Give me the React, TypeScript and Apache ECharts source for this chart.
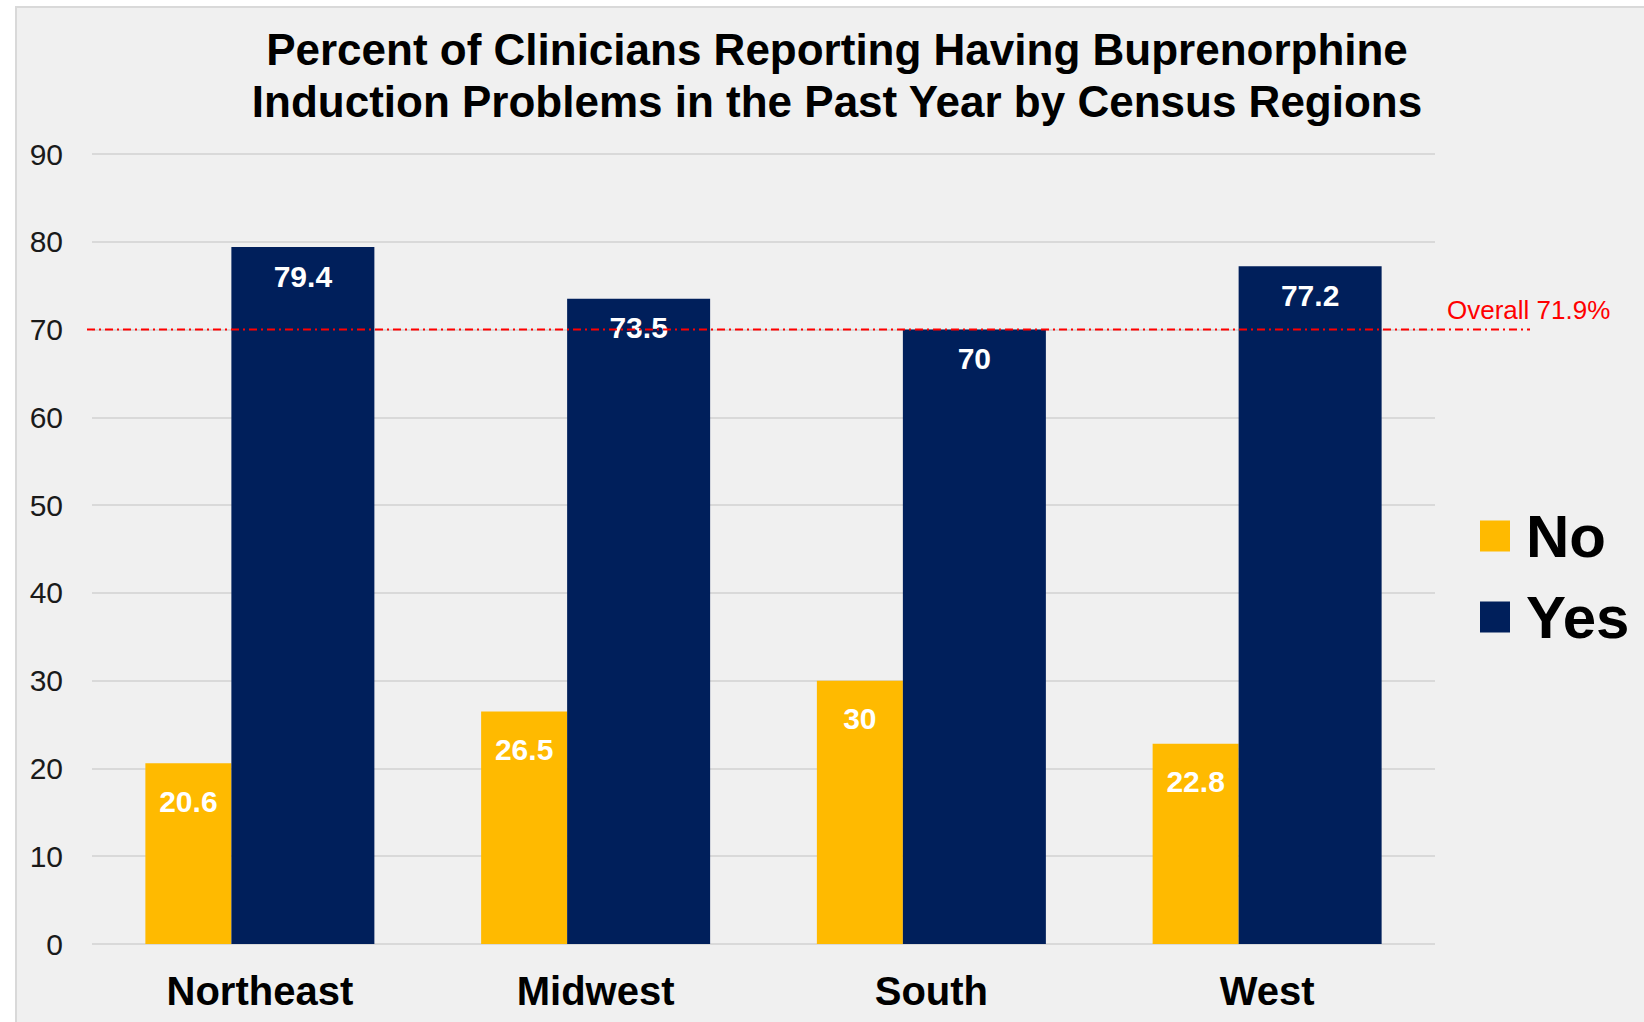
import React, { useEffect, useRef } from "react";
import * as echarts from "echarts";

const categories = ["Northeast", "Midwest", "South", "West"];
const noValues = [20.6, 26.5, 30, 22.8];
const yesValues = [79.4, 73.5, 70, 77.2];
const seriesNames = ["No", "Yes"];
const yMin = 0;
const yMax = 90;
const yInterval = 10;
const overallLineValue = 70;
const overallLabel = "Overall 71.9%";
const titleText =
  "Percent of Clinicians Reporting Having Buprenorphine\nInduction Problems in the Past Year by Census Regions";

const FONT = "'Liberation Sans', Arial, Helvetica, sans-serif";
const NO_COLOR = "#FFBA00";
const YES_COLOR = "#001F5B";

export default function App() {
  const ref = useRef<HTMLDivElement>(null);

  useEffect(() => {
    if (!ref.current) return;
    const chart = echarts.init(ref.current, undefined, { renderer: "svg" });

    const panel = {
      id: "panel",
      type: "rect",
      z: -10,
      shape: { x: 16, y: 7, width: 1640, height: 1030 },
      style: { fill: "#f0f0f0", stroke: "#d9d9d9", lineWidth: 2 },
    };

    const title = {
      id: "title",
      type: "text",
      z: 50,
      x: 837,
      y: 23,
      style: {
        text: titleText,
        fill: "#000000",
        fontFamily: FONT,
        fontSize: 44,
        fontWeight: "bold",
        lineHeight: 52,
        align: "center",
        verticalAlign: "top",
      },
    };

    const option: any = {
      animation: false,
      backgroundColor: "#ffffff",
      textStyle: { fontFamily: FONT },
      legend: {
        data: seriesNames,
        orient: "vertical",
        left: 1480,
        top: 506,
        padding: 0,
        icon: "rect",
        itemWidth: 30,
        itemHeight: 31,
        itemGap: 21,
        textStyle: {
          fontFamily: FONT,
          fontSize: 60,
          fontWeight: "bold",
          color: "#000000",
          lineHeight: 60,
          padding: [0, 0, 0, 11],
        },
      },
      grid: { left: 92, right: 209, top: 154, bottom: 78, containLabel: false },
      xAxis: {
        type: "category",
        data: categories,
        axisLine: { show: false },
        axisTick: { show: false },
        axisLabel: {
          margin: 26,
          fontFamily: FONT,
          fontSize: 40,
          fontWeight: "bold",
          color: "#000000",
          lineHeight: 42,
        },
      },
      yAxis: {
        type: "value",
        min: yMin,
        max: yMax,
        interval: yInterval,
        axisLine: { show: false },
        axisTick: { show: false },
        axisLabel: {
          margin: 29,
          fontFamily: FONT,
          fontSize: 30,
          color: "#1a1a1a",
        },
        splitLine: { lineStyle: { color: "#d9d9d9", width: 2 } },
      },
      series: [
        {
          name: seriesNames[0],
          type: "bar",
          data: noValues,
          barWidth: 86,
          barGap: "0%",
          itemStyle: { color: NO_COLOR },
          label: {
            show: true,
            position: "insideTop",
            distance: 23,
            fontFamily: FONT,
            fontSize: 30,
            lineHeight: 30,
            fontWeight: "bold",
            color: "#ffffff",
          },
        },
        {
          name: seriesNames[1],
          type: "bar",
          data: yesValues,
          barWidth: 143,
          barGap: "0%",
          itemStyle: { color: YES_COLOR },
          label: {
            show: true,
            position: "insideTop",
            distance: 14,
            fontFamily: FONT,
            fontSize: 30,
            lineHeight: 30,
            fontWeight: "bold",
            color: "#ffffff",
          },
        },
      ],
      graphic: [panel, title],
    };

    chart.setOption(option);

    const lineY = chart.convertToPixel({ yAxisIndex: 0 }, overallLineValue) as number;
    chart.setOption({
      graphic: [
        panel,
        title,
        {
          id: "overallLine",
          type: "line",
          z: 100,
          shape: { x1: 87, y1: lineY, x2: 1530, y2: lineY },
          style: { stroke: "#ff0000", lineWidth: 2, lineDash: [8, 4, 2, 4] },
        },
        {
          id: "overallText",
          type: "text",
          z: 100,
          x: 1447,
          y: lineY - 20,
          style: {
            text: overallLabel,
            fill: "#ff0000",
            fontFamily: FONT,
            fontSize: 26,
            verticalAlign: "middle",
            align: "left",
          },
        },
      ],
    });

    return () => chart.dispose();
  }, []);

  return (
    <div
      ref={ref}
      style={{ position: "absolute", left: 0, top: 0, width: 1644, height: 1022 }}
    />
  );
}
